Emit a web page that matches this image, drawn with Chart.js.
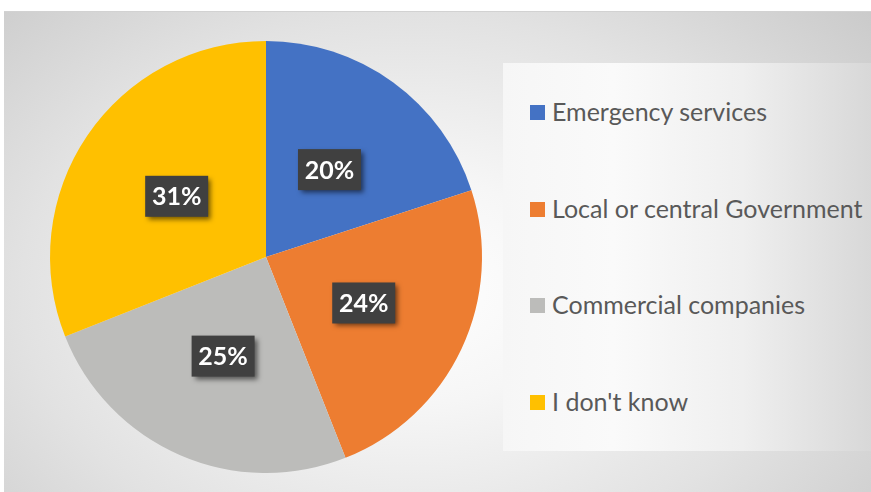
<!DOCTYPE html>
<html>
<head>
<meta charset="utf-8">
<script src="https://cdn.jsdelivr.net/npm/chart.js@4/dist/chart.umd.min.js"></script>
<style>
  body { margin: 0; width: 871px; height: 492px; background: #fff; position: relative; overflow: hidden; }
  #panel {
    position: absolute; left: 4px; top: 11px; width: 867px; height: 481px;
    background: radial-gradient(ellipse 75% 95% at 47% 58%, #ffffff 0%, #f6f6f6 25%, #e2e2e2 60%, #c6c6c6 100%);
    border-top: 1px solid #d2d2d2; box-sizing: border-box;
  }
  #legendBox {
    position: absolute; left: 503px; top: 63px; width: 368px; height: 388px;
    background: linear-gradient(to right, #f6f6f6 0%, #fafafa 30%, #efefef 65%, #d8d8d8 100%);
  }
  .item { position: absolute; left: 27px; height: 16px; font-family: Lato, "Open Sans", sans-serif; font-size: 25px; color: #595959; white-space: nowrap; }
  .item span.box { position: absolute; left: 0; top: 0; width: 15px; height: 15px; }
  .item span.txt { position: absolute; left: 22px; top: -14px; line-height: 40px; }
  #wrap { position: absolute; left: 0; top: 11px; width: 532px; height: 481px; }
</style>
</head>
<body>
<div id="panel"></div>
<div id="legendBox"></div>
<div id="wrap"><canvas id="pie"></canvas></div>
<script>
// Chart data
const labels = ["Emergency services", "Local or central Government", "Commercial companies", "I don't know"];
const values = [20, 24, 25, 31];
const colors = ["#4472C4", "#ED7D31", "#BCBCBA", "#FFC000"];

// Legend built from the same arrays
const legendBox = document.getElementById("legendBox");
labels.forEach((lab, i) => {
    const item = document.createElement("div");
    item.className = "item";
    item.style.top = (42 + i * 96.5) + "px";
    item.innerHTML = `<span class="box" style="background:${colors[i]}"></span><span class="txt">${lab}</span>`;
    legendBox.appendChild(item);
});

// Dark label boxes with a drop shadow
const boxLabels = {
    id: "boxLabels",
    afterDatasetsDraw(chart) {
        const ctx = chart.ctx;
        const meta = chart.getDatasetMeta(0);
        ctx.save();
        ctx.font = "bold 25px Lato, 'Open Sans', sans-serif";
        ctx.textAlign = "center";
        ctx.textBaseline = "middle";
        meta.data.forEach((arc, i) => {
            const p = arc.tooltipPosition();
            const text = values[i] + "%";
            const w = 63, h = 41;
            ctx.shadowColor = "rgba(0,0,0,0.55)";
            ctx.shadowBlur = 5;
            ctx.shadowOffsetX = 3;
            ctx.shadowOffsetY = 3;
            ctx.fillStyle = "#404040";
            ctx.fillRect(p.x - w / 2, p.y - h / 2, w, h);
            ctx.shadowColor = "transparent";
            ctx.fillStyle = "#ffffff";
            ctx.fillText(text, p.x, p.y + 1);
        });
        ctx.restore();
    }
};

new Chart(document.getElementById("pie"), {
    type: "pie",
    data: {
        labels: labels,
        datasets: [{
            data: values,
            backgroundColor: colors,
            borderWidth: 0
        }]
    },
    options: {
        responsive: true,
        maintainAspectRatio: false,
        animation: false,
        layout: { padding: { left: 50, right: 50, top: 30, bottom: 19 } },
        plugins: {
            legend: { display: false },
            tooltip: { enabled: false }
        }
    },
    plugins: [boxLabels]
});
</script>
</body>
</html>
